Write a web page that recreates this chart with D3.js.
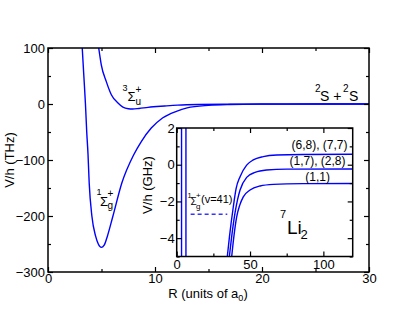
<!DOCTYPE html>
<html><head><meta charset="utf-8">
<script src="https://cdn.jsdelivr.net/npm/d3@7"></script>
<style>
html,body{margin:0;padding:0;background:#fff;}
svg text{font-family:"Liberation Sans",Arial,Helvetica,sans-serif;fill:#000;}
</style></head>
<body><svg id="c" width="415" height="321"></svg>
<script>
// ---- data (R in a0, V/h in THz for main, GHz for inset) ----
const singlet = [[3.2,100],[3.35,50],[3.5,0],[3.62,-50],[3.74,-90],[3.85,-141],[4.1,-200],[4.45,-236],[4.7,-250],[4.98,-256],[5.25,-252],[5.55,-236],[6.07,-200],[6.9,-141],[8.0,-91],[8.72,-67],[9.65,-43],[10.7,-25],[12,-13],[13,-7],[15,-2.5],[17,-1],[20,-0.3],[25,-0.05],[30,0]];
const triplet = [[4.74,100],[4.98,70],[5.45,40],[5.92,16.6],[6.54,1.8],[7.0,-5.5],[7.5,-8.5],[7.9,-9],[8.5,-8],[9.35,-6],[10.9,-3.6],[12.1,-2],[14,-0.8],[17,-0.3],[20,-0.1],[25,0],[30,0]];
const singletInset = [[3.3,2],[3.3,-5]];
const tripletInset = [[6.3,2],[6.3,-5]];
const hf68 = [[34.5,-5],[36,-3.9],[38.6,-2.29],[40.5,-1.3],[43.2,-0.65],[47.7,-0.02],[52.2,0.26],[59,0.44],[68.2,0.53],[86,0.56],[120,0.57]];
const hf17 = [[35.9,-5],[37.5,-3.9],[39.7,-2.65],[41.5,-1.9],[43.2,-1.38],[47.7,-0.69],[53.4,-0.42],[61.3,-0.29],[75,-0.24],[120,-0.23]];
const hf11 = [[37.5,-5],[39,-3.9],[40.9,-2.84],[43,-2.2],[45.4,-1.75],[50,-1.38],[56.8,-1.16],[65.9,-1.07],[86,-1.03],[120,-1.02]];
const v41 = [[9.5,-2.7],[34.5,-2.7]];
const mainXTicks = [0,10,20,30];
const mainYTicks = [-300,-200,-100,0,100];
const insetXTicks = [0,50,100];
const insetYTicks = [-4,-2,0,2];

const svg = d3.select("#c");
const BLUE = "#0000ff";

// ---- main plot ----
const x = d3.scaleLinear([0,30],[48,369]);
const y = d3.scaleLinear([-300,100],[272,48]);

function axes(g, xs, ys, xMajor, xMinor, yMajor, yMinor, big, small, fs, padX, padY){
  const [x0,x1]=xs.range(), [y0,y1]=ys.range();
  const add=(ax,tr)=>{const a=g.append("g").attr("transform",tr).call(ax);
    a.select(".domain").remove(); a.selectAll("line").attr("stroke","#000").attr("stroke-width",1.2);
    a.selectAll("text").style("font-size",fs+"px").attr("fill","#000");
    return a;};
  add(d3.axisBottom(xs).tickValues(xMajor).tickSize(-big).tickPadding(padX).tickFormat(d3.format("d")),`translate(0,${y0})`);
  add(d3.axisBottom(xs).tickValues(xMinor).tickSize(-small).tickFormat(""),`translate(0,${y0})`);
  add(d3.axisTop(xs).tickValues(xMajor).tickSize(-big).tickFormat(""),`translate(0,${y1})`);
  add(d3.axisTop(xs).tickValues(xMinor).tickSize(-small).tickFormat(""),`translate(0,${y1})`);
  add(d3.axisLeft(ys).tickValues(yMajor).tickSize(-big).tickPadding(padY).tickFormat(d3.format("d")),`translate(${x0},0)`);
  add(d3.axisLeft(ys).tickValues(yMinor).tickSize(-small).tickFormat(""),`translate(${x0},0)`);
  add(d3.axisRight(ys).tickValues(yMajor).tickSize(-big).tickFormat(""),`translate(${x1},0)`);
  add(d3.axisRight(ys).tickValues(yMinor).tickSize(-small).tickFormat(""),`translate(${x1},0)`);
  g.append("rect").attr("x",x0).attr("y",y1).attr("width",x1-x0).attr("height",y0-y1)
    .attr("fill","none").attr("stroke","#000").attr("stroke-width",1.5);
}

const gMain = svg.append("g");
const clip = svg.append("defs");
clip.append("clipPath").attr("id","cm").append("rect").attr("x",48).attr("y",48).attr("width",321).attr("height",224);
clip.append("clipPath").attr("id","ci").append("rect").attr("x",176.7).attr("y",128).attr("width",176).attr("height",128.5);

const lineM = d3.line().x(d=>x(d[0])).y(d=>y(d[1])).curve(d3.curveMonotoneX);
const curves = gMain.append("g").attr("clip-path","url(#cm)");
[singlet,triplet].forEach(s=>curves.append("path").attr("d",lineM(s)).attr("fill","none").attr("stroke",BLUE).attr("stroke-width",1.4));

axes(gMain,x,y,mainXTicks,[5,15,25],mainYTicks,[-250,-150,-50,50],5,3,13,2,3);

// main labels
function t(txt,px,py,fs,anchor,col){return svg.append("text").attr("x",px).attr("y",py).style("font-size",fs+"px").attr("text-anchor",anchor||"start").attr("fill",col||"#000").text(txt);}
t("3",122.5,91,9); t("Σ",127.5,100.5,13); t("u",135.5,105,10); t("+",135.5,93,10);
t("1",96.5,195,9); t("Σ",100,205.5,13); t("g",107.5,209,10); t("+",107.5,197,10);
t("2",315,92,10); t("S + ",320,100.5,14); t("2",343,92,10); t("S",349,100.5,14);

// axis titles
svg.append("text").attr("transform","translate(14,160) rotate(-90)").attr("text-anchor","middle").style("font-size","13px").text("V/h (THz)");
const xt = svg.append("text").attr("x",208).attr("y",298).attr("text-anchor","middle").style("font-size","13px");
xt.append("tspan").text("R (units of a");
xt.append("tspan").attr("dy",3).style("font-size","9px").text("0");
xt.append("tspan").attr("dy",-3).text(")");

// ---- inset ----
const xi = d3.scaleLinear([0,120],[176.7,352.7]);
const yi = d3.scaleLinear([-5,2],[256.5,128]);
const gIn = svg.append("g");
gIn.append("rect").attr("x",176.7).attr("y",128).attr("width",176).attr("height",128.5).attr("fill","#fff");
const lineI = d3.line().x(d=>xi(d[0])).y(d=>yi(d[1])).curve(d3.curveMonotoneX);
const ic = gIn.append("g").attr("clip-path","url(#ci)");
[singletInset,tripletInset,hf68,hf17,hf11].forEach(s=>ic.append("path").attr("d",lineI(s)).attr("fill","none").attr("stroke",BLUE).attr("stroke-width",1.4));
ic.append("path").attr("d",lineI(v41)).attr("fill","none").attr("stroke","#3535ff").attr("stroke-width",1.4).attr("stroke-dasharray","4,3");
axes(gIn,xi,yi,insetXTicks,[25,75],insetYTicks,[-5,-3,-1,1],5,3,13,3,2);

svg.append("text").attr("transform","translate(152,185) rotate(-90)").attr("text-anchor","middle").style("font-size","13px").text("V/h (GHz)");

const LB="#3535ff";
t("1",187.5,197.5,7.5,"start",LB); t("Σ",190.5,205,10,"start",LB); t("g",196,209,8,"start",LB); t("+",196,197.5,8,"start",LB);
t("(v=41)",201,203,11,"start",LB);

t("(6,8), (7,7)",347.5,149,12,"end");
t("(1,7), (2,8)",345.5,165,12,"end");
t("(1,1)",330,181,12,"end");

t("7",280,218,11); t("Li",287,233.5,19); t("2",300.5,238.5,13);
</script></body></html>
